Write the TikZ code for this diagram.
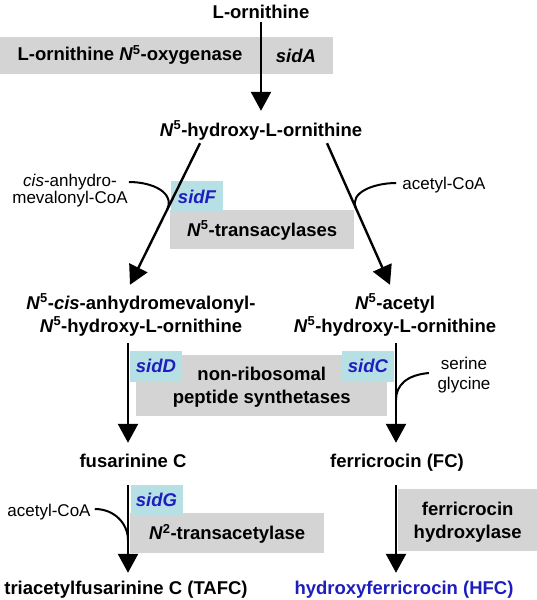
\documentclass[tikz,border=0pt]{standalone}
\usepackage{fontspec}
\setmainfont{Liberation Sans}
\usetikzlibrary{positioning,arrows.meta,calc}
\definecolor{egray}{HTML}{D4D4D4}
\definecolor{gcyan}{HTML}{B6E0E4}
\definecolor{gblue}{HTML}{1E1EBE}
\newcommand{\Nfive}{\textit{N}\textsuperscript{5}}

\begin{document}
\begin{tikzpicture}[x=1pt, y=-1pt,
  chem/.style={font=\fontsize{18.5}{23}\selectfont\bfseries, inner sep=0pt,
    text height=13pt, text depth=0pt, align=center},
  chem2/.style={chem, text height=36pt},
  cofac/.style={font=\fontsize{17}{15}\selectfont, inner sep=0pt,
    text height=12pt, text depth=0pt, align=center},
  enz/.style={fill=egray, inner sep=0pt, font=\fontsize{18.5}{23}\selectfont\bfseries,
    text height=13pt, text depth=0pt, align=center},
  gene/.style={fill=gcyan, inner sep=0pt, minimum width=52pt, minimum height=31pt,
    font=\fontsize{18.5}{23}\selectfont\bfseries\itshape, text=gblue,
    text height=13pt, text depth=0pt},
  arr/.style={-{Triangle[width=20pt,length=19pt]}, line width=2.4pt},
  feed/.style={line width=2pt}
]
\useasboundingbox (0,0) rectangle (537,600);

% enzyme boxes
\node[enz, minimum width=333pt, minimum height=37pt, anchor=north west] (oxyband) at (0,37) {};
\node[enz, minimum width=184pt, minimum height=39pt, anchor=north west] (transac) at (170,210) {\Nfive-transacylases};
\node[enz, text height=36pt, minimum width=251pt, minimum height=61pt, anchor=north west] (nrps) at (136,355) {non-ribosomal\\peptide synthetases};
\node[enz, minimum width=194pt, minimum height=40pt, anchor=north west] (transacet) at (130,513) {\textit{N}\textsuperscript{2}-transacetylase};
\node[enz, text height=36pt, minimum width=139pt, minimum height=62pt, anchor=north west] (hydroxylase) at (398,489) {ferricrocin\\hydroxylase};
\node[chem] (oxy) at (130,54) {L-ornithine \Nfive-oxygenase};
\node[chem] (sidA) at (296,56) {\itshape sidA};

% genes
\node[gene] (sidF) at (197,196.5) {sidF};
\node[gene] (sidD) at (156,366) {sidD};
\node[gene] (sidC) at (368,366) {sidC};
\node[gene] (sidG) at (156.5,500) {sidG};

% compounds
\node[chem] (orn) at (261,11.5) {L-ornithine};
\node[chem] (hydorn) at (261,129.5) {\Nfive-hydroxy-L-ornithine};
\node[chem2] (cisorn) at (141,314) {\Nfive-\textit{cis}-anhydromevalonyl-\\\Nfive-hydroxy-L-ornithine};
\node[chem2] (acetorn) at (395,314) {\Nfive-acetyl\\\Nfive-hydroxy-L-ornithine};
\node[chem] (fusC) at (133,461) {fusarinine C};
\node[chem] (ferri) at (397,461) {ferricrocin (FC)};
\node[chem] (tafc) at (126,588) {triacetylfusarinine C (TAFC)};
\node[chem, text=gblue] (hfc) at (404,588) {hydroxyferricrocin (HFC)};

% co-substrates
\node[cofac, text height=27pt] (cisCoA) at (70,190) {\textit{cis}-anhydro-\\mevalonyl-CoA};
\node[cofac] (acCoA) at (444,183) {acetyl-CoA};
\node[cofac, text height=32pt] (sergly) at (464,373) {serine\\[5pt]glycine};
\node[cofac] (acCoAb) at (49,510) {acetyl-CoA};

% reactions
\draw[arr] ([shift={(0,4)}]orn.south) -- ([shift={(0,-12)}]hydorn.north);
\draw[arr] ([shift={(-61,7)}]hydorn.south) -- coordinate[pos=0.47] (jF) ([shift={(-11,-11)}]cisorn.north);
\draw[arr] ([shift={(66,7)}]hydorn.south) -- coordinate[pos=0.46] (jA) ([shift={(-5,-11)}]acetorn.north);
\draw[arr] ([shift={(-13,11)}]cisorn.south) -- ([shift={(-5,-11.5)}]fusC.north);
\draw[arr] ([shift={(1,11)}]acetorn.south) -- coordinate[pos=0.57] (jC) ([shift={(-1,-11.5)}]ferri.north);
\draw[arr] ([shift={(-5,17.5)}]fusC.south) -- coordinate[pos=0.625] (jG) ([shift={(2,-8.5)}]tafc.north);
\draw[arr] ([shift={(-1,17.5)}]ferri.south) -- ([shift={(-8,-8.5)}]hfc.north);

% co-substrate entries
\draw[feed] ([shift={(1,-8)}]cisCoA.east) .. controls +(24,0) and +(8,-17) .. (jF);
\draw[feed] ([shift={(-6,0)}]acCoA.west) .. controls +(-22,0) and +(-7,-16) .. (jA);
\draw[feed] ([shift={(-8.5,0)}]sergly.west) .. controls +(-22,2) and +(0,-15) .. (jC);
\draw[feed] ([shift={(4,-1)}]acCoAb.east) .. controls +(20,0) and +(0,-16) .. (jG);
\end{tikzpicture}
\end{document}
